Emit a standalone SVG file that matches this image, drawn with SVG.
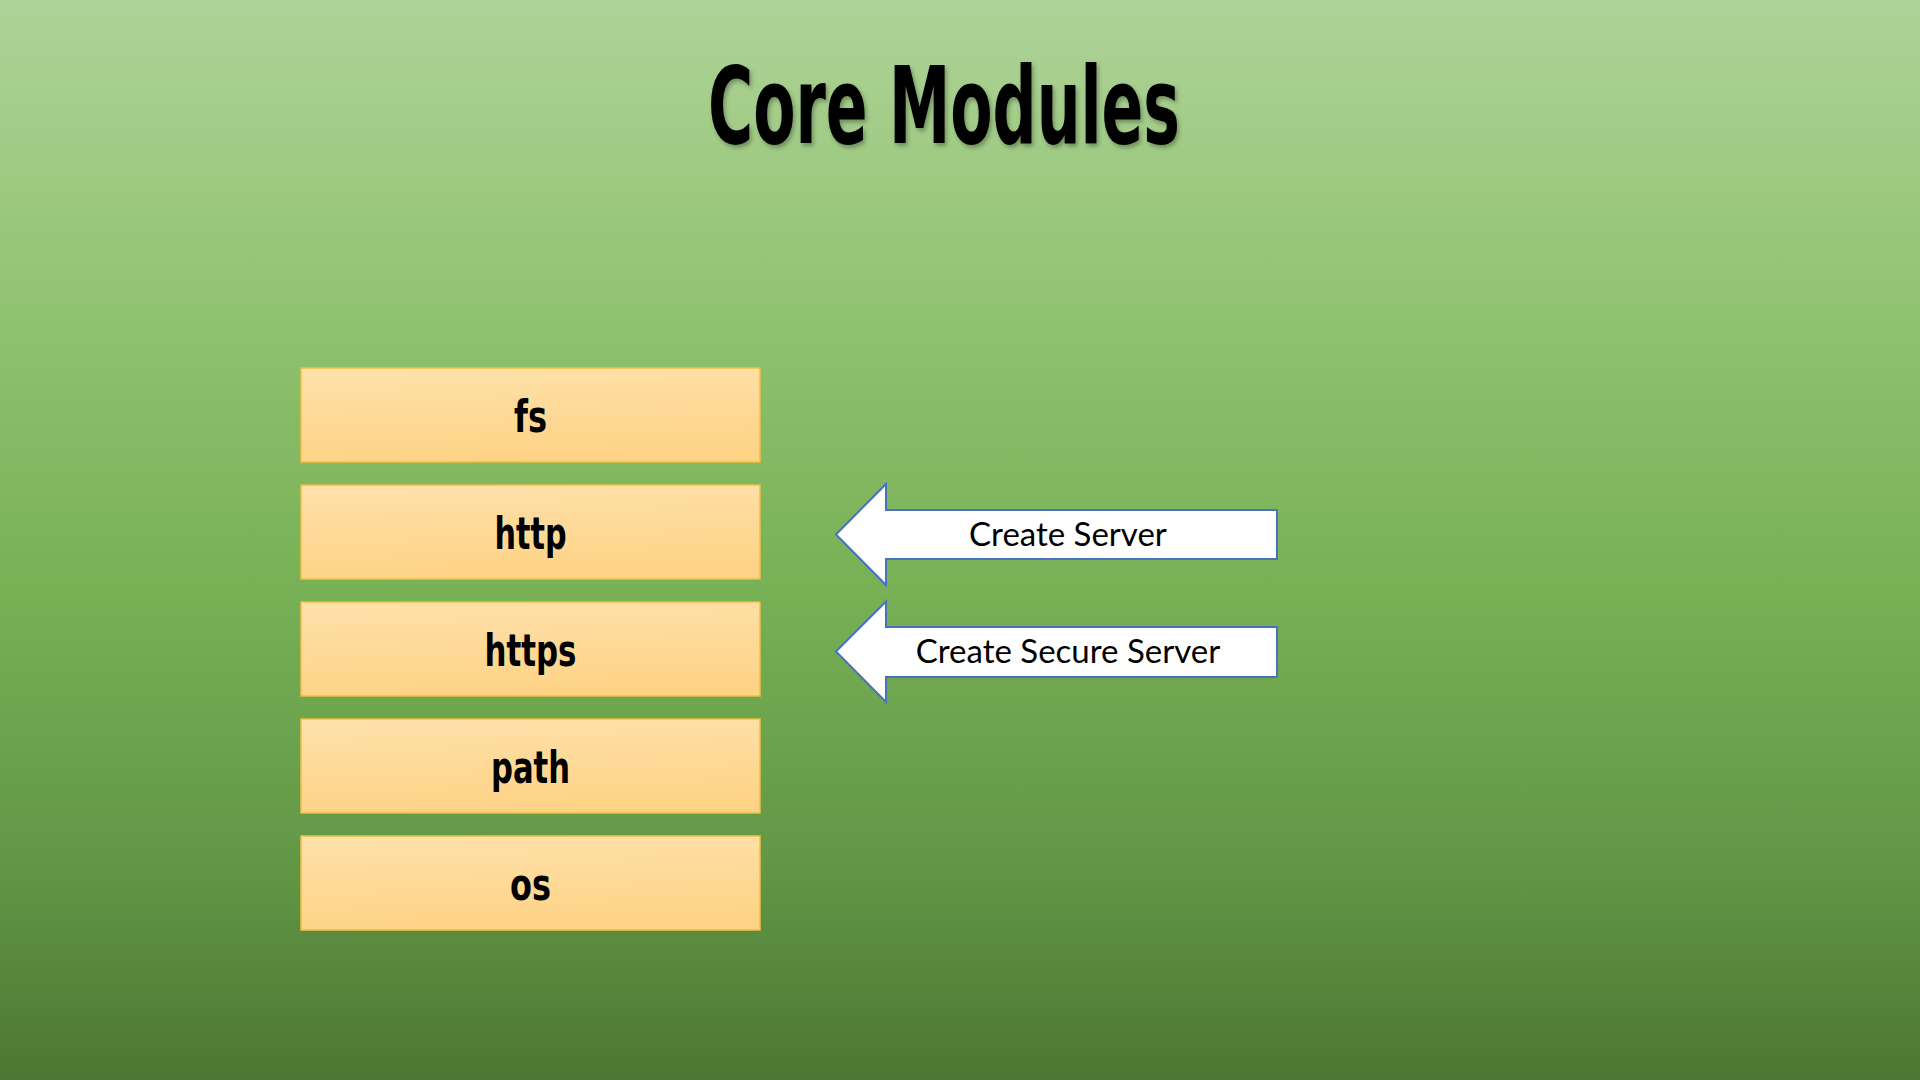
<svg xmlns="http://www.w3.org/2000/svg" width="1920" height="1080" viewBox="0 0 1920 1080">
<defs>
<linearGradient id="bg" x1="0" y1="0" x2="0" y2="1">
<stop offset="0" stop-color="#afd398"/>
<stop offset="0.3" stop-color="#8fc26f"/>
<stop offset="0.55" stop-color="#77b055"/>
<stop offset="0.8" stop-color="#629746"/>
<stop offset="1" stop-color="#4d7733"/>
</linearGradient>
<linearGradient id="box" x1="0" y1="0" x2="0.15" y2="1">
<stop offset="0" stop-color="#fee1ab"/>
<stop offset="1" stop-color="#fed386"/>
</linearGradient>
<filter id="sh" x="-5%" y="-5%" width="110%" height="120%">
<feDropShadow dx="2" dy="3" stdDeviation="2" flood-color="#000" flood-opacity="0.3"/>
</filter>
<style>
.box{fill:url(#box);stroke:#f0c040;stroke-width:1.5}
.lbl{font-family:"DejaVu Sans Condensed","DejaVu Sans",sans-serif;font-weight:bold;font-size:44px;fill:#000;text-anchor:middle}
.arr{fill:#fff;stroke:#4a70c0;stroke-width:2}
.atxt{font-family:Lato,"Open Sans",sans-serif;font-size:33px;fill:#000;text-anchor:middle}
</style>
</defs>
<rect x="0" y="0" width="1920" height="1080" fill="url(#bg)"/>
<text x="944" y="143" font-family="'DejaVu Sans Condensed','DejaVu Sans',sans-serif" font-weight="bold" font-size="107" fill="#000" text-anchor="middle" textLength="472" lengthAdjust="spacingAndGlyphs" filter="url(#sh)">Core Modules</text>
<g id="fs"><rect class="box" x="301" y="368" width="459" height="94"/><text class="lbl" x="530.5" y="432" textLength="33" lengthAdjust="spacingAndGlyphs">fs</text></g>
<g id="http"><rect class="box" x="301" y="485" width="459" height="94"/><text class="lbl" x="530.5" y="549" textLength="72" lengthAdjust="spacingAndGlyphs">http</text></g>
<g id="https"><rect class="box" x="301" y="602" width="459" height="94"/><text class="lbl" x="530.5" y="666" textLength="92" lengthAdjust="spacingAndGlyphs">https</text></g>
<g id="path"><rect class="box" x="301" y="719" width="459" height="94"/><text class="lbl" x="530.5" y="783" textLength="79" lengthAdjust="spacingAndGlyphs">path</text></g>
<g id="os"><rect class="box" x="301" y="836" width="459" height="94"/><text class="lbl" x="530.5" y="900" textLength="41" lengthAdjust="spacingAndGlyphs">os</text></g>
<g id="connectors">
<g id="arrow-create-server"><polygon class="arr" points="836,534.5 886,484 886,510 1277,510 1277,559 886,559 886,585"/><text class="atxt" x="1068" y="546">Create Server</text></g>
<g id="arrow-create-secure-server"><polygon class="arr" points="836,651.5 886,601.5 886,627 1277,627 1277,677 886,677 886,702"/><text class="atxt" x="1068" y="663">Create Secure Server</text></g>
</g>
</svg>
